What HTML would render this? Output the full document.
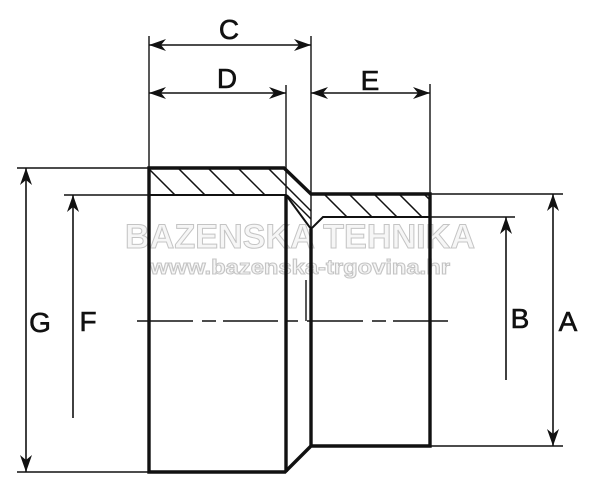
<!DOCTYPE html>
<html><head><style>html,body{margin:0;padding:0;background:#fff;}</style></head>
<body>
<svg width="600" height="498" viewBox="0 0 600 498" xmlns="http://www.w3.org/2000/svg" style="display:block">
<defs>
<clipPath id="h1"><polygon points="149,168 284,168 311,194 311,229 286,195 149,195"/></clipPath>
<clipPath id="h2"><polygon points="311,194 430,194 430,217 323,217 311,229"/></clipPath>
<path id="ah" d="M0,0 L-17,-6 L-12,0 L-17,6 z" fill="#111"/>
</defs>
<!-- watermark -->
<g font-family="Liberation Sans, sans-serif" font-weight="bold" fill="#f6f6f6" stroke="#c4c4c4" stroke-width="1">
<text x="300" y="248" font-size="34" text-anchor="middle" textLength="350" lengthAdjust="spacingAndGlyphs">BAZENSKA TEHNIKA</text>
<text x="300" y="274" font-size="20" text-anchor="middle" textLength="300" lengthAdjust="spacingAndGlyphs">www.bazenska-trgovina.hr</text>
</g>
<g stroke="#111" fill="none">
<g clip-path="url(#h1)" stroke-width="1.5">
<path d="M130,150 l70,70 M160,150 l70,70 M190,150 l70,70 M220,150 l70,70 M250,150 l70,70 M280,150 l70,70 M310,150 l70,70 M100,150 l70,70"/>
<path d="M287,195 L311,219" />
</g>
<g clip-path="url(#h2)" stroke-width="1.5">
<path d="M300,170 l60,60 M325,170 l60,60 M350,170 l60,60 M375,170 l60,60 M400,170 l60,60 M425,170 l60,60"/>
</g>
<g stroke-width="1.4">
<path d="M149,36 V168 M311,36 V229 M286,85 V195 M430,84 V194"/>
<path d="M17,168 H149 M64,195 H149 M430,194 H563 M430,217 H515 M430,446 H563 M17,472 H149"/>
<path d="M306,280 V321"/>
<path d="M137,321 H193 M202,321 H216 M223,321 H278 M287,321 H298 M307,321 H363 M372,321 H386 M393,321 H448"/>
</g>
<g stroke-width="3.4" stroke-linejoin="miter">
<path d="M149,168 H284 L311,194 H430 V446 H311 L285,472 H149 Z"/>
<path d="M286,195 V472"/>
<path d="M311,229 V446"/>
</g>
<g stroke-width="2">
<path d="M149,195 H286 L311,229 L323,217 H430"/>
</g>
<g stroke-width="1.6">
<path d="M149,45 H311"/>
<path d="M149,93 H286"/>
<path d="M311,93 H430"/>
<path d="M26,168 V472"/>
<path d="M73,418 V195"/>
<path d="M506,380 V217"/>
<path d="M553,194 V446"/>
</g>
</g>
<!-- arrowheads -->
<use href="#ah" transform="translate(149,45) rotate(180)"/>
<use href="#ah" transform="translate(311,45)"/>
<use href="#ah" transform="translate(149,93) rotate(180)"/>
<use href="#ah" transform="translate(286,93)"/>
<use href="#ah" transform="translate(311,93) rotate(180)"/>
<use href="#ah" transform="translate(430,93)"/>
<use href="#ah" transform="translate(26,168) rotate(-90)"/>
<use href="#ah" transform="translate(26,472) rotate(90)"/>
<use href="#ah" transform="translate(73,195) rotate(-90)"/>
<use href="#ah" transform="translate(506,217) rotate(-90)"/>
<use href="#ah" transform="translate(553,194) rotate(-90)"/>
<use href="#ah" transform="translate(553,446) rotate(90)"/>
<g font-family="Liberation Sans, sans-serif" font-size="28" fill="#111" stroke="#111" stroke-width="0.6" text-anchor="middle">
<text x="229" y="39">C</text>
<text x="227" y="88">D</text>
<text x="370" y="90">E</text>
<text x="40" y="332">G</text>
<text x="88" y="331">F</text>
<text x="520" y="328">B</text>
<text x="568" y="331">A</text>
</g>
</svg>
</body></html>
